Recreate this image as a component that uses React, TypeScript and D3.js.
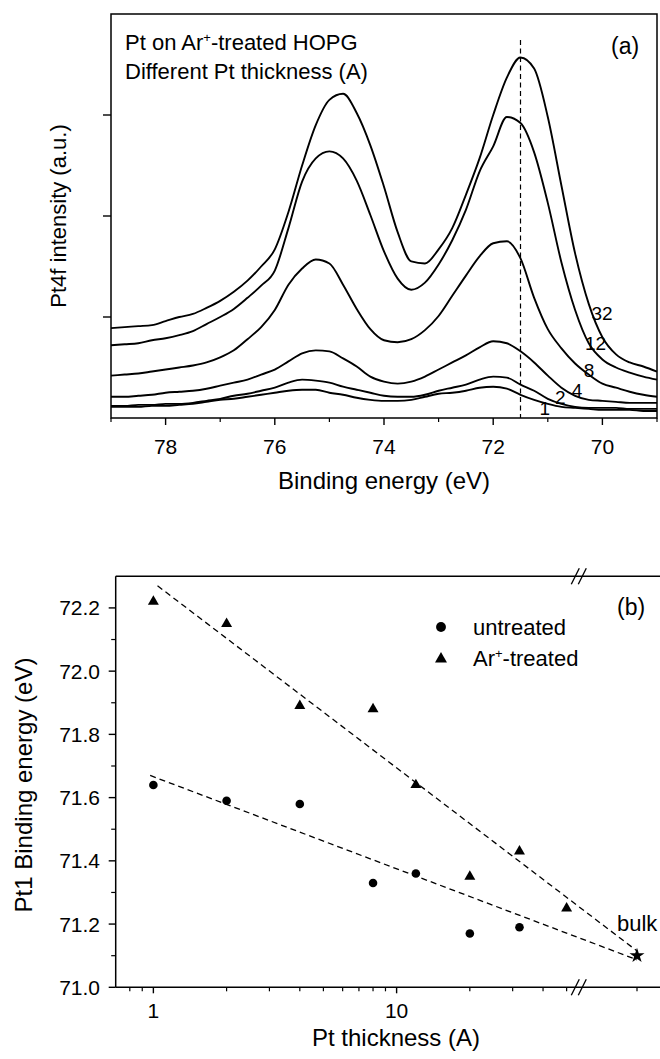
import React from 'react';
import * as d3 from 'd3';

// ---------- Panel (a): Pt4f spectra ----------
const energies = [79, 78.75, 78.5, 78.25, 78, 77.75, 77.5, 77.25, 77, 76.75, 76.5, 76.25, 76, 75.75, 75.5, 75.25, 75, 74.75, 74.5, 74.25, 74, 73.75, 73.5, 73.25, 73, 72.75, 72.5, 72.25, 72, 71.75, 71.5, 71.25, 71, 70.75, 70.5, 70.25, 70, 69.75, 69.5, 69.25, 69];

const pt32 = [0.89, 0.90, 0.91, 0.92, 0.96, 1.00, 1.03, 1.09, 1.16, 1.25, 1.36, 1.50, 1.67, 2.04, 2.50, 2.90, 3.15, 3.21, 3.02, 2.70, 2.29, 1.84, 1.55, 1.53, 1.67, 1.88, 2.21, 2.57, 3.00, 3.37, 3.57, 3.46, 2.98, 2.30, 1.63, 1.13, 0.80, 0.63, 0.55, 0.51, 0.46];
const pt12 = [0.72, 0.73, 0.74, 0.77, 0.79, 0.82, 0.86, 0.93, 1.00, 1.08, 1.19, 1.31, 1.46, 1.88, 2.34, 2.57, 2.64, 2.57, 2.35, 2.01, 1.65, 1.38, 1.27, 1.34, 1.52, 1.76, 2.06, 2.44, 2.69, 2.98, 2.92, 2.63, 2.13, 1.54, 1.07, 0.74, 0.58, 0.50, 0.45, 0.41, 0.38];
const pt8 = [0.42, 0.43, 0.44, 0.46, 0.48, 0.50, 0.52, 0.55, 0.60, 0.67, 0.78, 0.90, 1.07, 1.32, 1.48, 1.57, 1.53, 1.32, 1.08, 0.88, 0.77, 0.75, 0.78, 0.87, 1.01, 1.21, 1.41, 1.60, 1.73, 1.75, 1.58, 1.19, 0.88, 0.69, 0.54, 0.43, 0.34, 0.30, 0.26, 0.23, 0.21];
const pt4 = [0.21, 0.21, 0.22, 0.23, 0.25, 0.26, 0.27, 0.29, 0.32, 0.35, 0.38, 0.43, 0.48, 0.56, 0.64, 0.67, 0.66, 0.59, 0.51, 0.41, 0.36, 0.34, 0.36, 0.41, 0.48, 0.55, 0.62, 0.70, 0.76, 0.74, 0.66, 0.55, 0.42, 0.30, 0.22, 0.18, 0.17, 0.16, 0.15, 0.15, 0.15];
const pt2 = [0.12, 0.12, 0.13, 0.13, 0.14, 0.14, 0.15, 0.17, 0.19, 0.22, 0.24, 0.27, 0.30, 0.35, 0.38, 0.37, 0.35, 0.31, 0.28, 0.25, 0.22, 0.21, 0.21, 0.23, 0.27, 0.30, 0.33, 0.38, 0.41, 0.40, 0.33, 0.27, 0.19, 0.14, 0.11, 0.10, 0.10, 0.10, 0.09, 0.09, 0.09];
const pt1 = [0.11, 0.11, 0.11, 0.12, 0.12, 0.13, 0.14, 0.16, 0.18, 0.19, 0.21, 0.23, 0.25, 0.27, 0.28, 0.28, 0.25, 0.23, 0.20, 0.18, 0.17, 0.17, 0.18, 0.21, 0.24, 0.25, 0.27, 0.30, 0.31, 0.29, 0.23, 0.18, 0.14, 0.11, 0.10, 0.09, 0.08, 0.08, 0.08, 0.07, 0.07];

const curveNames = ['1', '2', '4', '8', '12', '32'];
const curveValues = [pt1, pt2, pt4, pt8, pt12, pt32];
// annotation anchors (energy, intensity) for the thickness labels
const labelEnergy = [71.15, 70.87, 70.56, 70.34, 70.32, 70.2];
const labelIntensity = [0.03, 0.14, 0.21, 0.41, 0.67, 0.97];

const topMajorTicks = [78, 76, 74, 72, 70];
const topMinorTicks = [79, 77, 75, 73, 71, 69];
const topYTicks = [1, 2, 3];
const refEnergy = 71.5;

// ---------- Panel (b): binding energy vs thickness ----------
const treatedThickness = [1, 2, 4, 8, 12, 20, 32, 50];
const treatedBE = [72.22, 72.15, 71.89, 71.88, 71.64, 71.35, 71.43, 71.25];
const untreatedThickness = [1, 2, 4, 8, 12, 20, 32];
const untreatedBE = [71.64, 71.59, 71.58, 71.33, 71.36, 71.17, 71.19];
const bulkBE = 71.1;
const treatedFitStart = { t: 1.04, e: 72.27 };
const treatedFitEnd = 71.115;
const untreatedFitStart = { t: 0.97, e: 71.67 };
const untreatedFitEnd = 71.087;

const botYMajor = [71.0, 71.2, 71.4, 71.6, 71.8, 72.0, 72.2];
const botYMinor = [71.1, 71.3, 71.5, 71.7, 71.9, 72.1];
const botXMajor = [1, 10];
const botXMinor = [0.8, 0.9, 2, 3, 4, 5, 6, 7, 8, 9, 20, 30, 40, 50];

const FONT = '"Liberation Sans", Arial, Helvetica, sans-serif';

export default function App() {
  // panel a scales
  const xA = d3.scaleLinear().domain([79, 69]).range([111, 657]);
  const yA = d3.scaleLinear().domain([0, 4]).range([418, 14]);
  const line = d3
    .line<number>()
    .x((_, i) => xA(energies[i]))
    .y((v) => yA(v))
    .curve(d3.curveMonotoneX);

  // panel b scales
  const xB = d3.scaleLog().domain([0.7, 58]).range([115.7, 582.3]);
  const xBulk = d3.scalePoint<string>().domain(['bulk']).range([612, 662]).padding(0.5);
  const yB = d3.scaleLinear().domain([71.0, 72.3]).range([987.3, 576.3]);
  const bx = (t: number | string) => (typeof t === 'string' ? (xBulk(t) as number) : xB(t));

  const tri = d3.symbol(d3.symbolTriangle, 52)() as string;
  const circ = d3.symbol(d3.symbolCircle, 58)() as string;
  const triL = d3.symbol(d3.symbolTriangle, 62)() as string;
  const circL = d3.symbol(d3.symbolCircle, 76)() as string;
  const star = d3.symbol(d3.symbolStar, 70)() as string;

  const aLeft = xA(79), aRight = xA(69), aTop = yA(4), aBot = yA(0);
  const bLeft = xB(0.7), bTop = yB(72.3), bBot = yB(71.0);
  const breakX = xB(58) - 3;

  const fitLine = d3.line<[number, number]>().x((d) => d[0]).y((d) => d[1]);

  return (
    <svg width={660} height={1059} style={{ position: 'absolute', left: 0, top: 0, background: '#fff' }} fontFamily={FONT}>
      <rect x={0} y={0} width={660} height={1059} fill="#fff" />
      {/* ===== Panel (a) ===== */}
      <g>
        {/* frame */}
        <rect x={aLeft} y={aTop} width={aRight - aLeft} height={aBot - aTop} fill="none" stroke="#000" strokeWidth={1.5} />
        {topMajorTicks.map((t) => (
          <line key={'am' + t} x1={xA(t)} x2={xA(t)} y1={aBot} y2={aBot + 7} stroke="#000" strokeWidth={1.4} />
        ))}
        {topMinorTicks.map((t) => (
          <line key={'an' + t} x1={xA(t)} x2={xA(t)} y1={aBot} y2={aBot + 4} stroke="#000" strokeWidth={1.2} />
        ))}
        {topMajorTicks.map((t) => (
          <text key={'al' + t} x={xA(t)} y={453.5} fontSize={21} textAnchor="middle">{t}</text>
        ))}
        {topYTicks.map((t) => (
          <line key={'ay' + t} x1={aLeft - 8} x2={aLeft} y1={yA(t)} y2={yA(t)} stroke="#000" strokeWidth={1.4} />
        ))}
        <line x1={xA(refEnergy)} x2={xA(refEnergy)} y1={40} y2={aBot} stroke="#000" strokeWidth={1.2} strokeDasharray="5,3.5" />
        {curveValues.map((vals, i) => (
          <path key={'c' + i} d={line(vals) as string} fill="none" stroke="#000" strokeWidth={1.9} strokeLinejoin="round" />
        ))}
        {curveNames.map((n, i) => (
          <text key={'cl' + n} x={xA(labelEnergy[i])} y={yA(labelIntensity[i])} fontSize={19}>{n}</text>
        ))}
        <text x={125} y={50} fontSize={22}>
          Pt on Ar<tspan dy={-8} fontSize={13}>+</tspan><tspan dy={8}>-treated HOPG</tspan>
        </text>
        <text x={125} y={79} fontSize={22}>Different Pt thickness (A)</text>
        <text x={611} y={54} fontSize={23}>(a)</text>
        <text x={384} y={489} fontSize={24} textAnchor="middle">Binding energy (eV)</text>
        <text transform={`translate(66,${(aTop + aBot) / 2}) rotate(-90)`} fontSize={22} textAnchor="middle">Pt4f intensity (a.u.)</text>
      </g>

      {/* ===== Panel (b) ===== */}
      <g>
        <line x1={bLeft} x2={bLeft} y1={bTop} y2={bBot} stroke="#000" strokeWidth={1.5} />
        <line x1={bLeft} x2={660} y1={bTop} y2={bTop} stroke="#000" strokeWidth={1.5} />
        <line x1={bLeft} x2={660} y1={bBot} y2={bBot} stroke="#000" strokeWidth={1.5} />
        {/* break marks */}
        {[bTop, bBot].map((yy, k) => (
          <g key={'br' + k}>
            <line x1={breakX - 8} x2={breakX} y1={yy + 8} y2={yy - 8} stroke="#000" strokeWidth={1.3} />
            <line x1={breakX - 1} x2={breakX + 7} y1={yy + 8} y2={yy - 8} stroke="#000" strokeWidth={1.3} />
          </g>
        ))}
        {botYMajor.map((v) => (
          <g key={'bym' + v}>
            <line x1={bLeft - 7} x2={bLeft} y1={yB(v)} y2={yB(v)} stroke="#000" strokeWidth={1.4} />
            <text x={100} y={yB(v)} dy="0.36em" fontSize={21} textAnchor="end">{v.toFixed(1)}</text>
          </g>
        ))}
        {botYMinor.map((v) => (
          <line key={'byn' + v} x1={bLeft - 4.5} x2={bLeft} y1={yB(v)} y2={yB(v)} stroke="#000" strokeWidth={1.2} />
        ))}
        {botXMajor.map((t) => (
          <g key={'bxm' + t}>
            <line x1={xB(t)} x2={xB(t)} y1={bBot} y2={bBot + 6} stroke="#000" strokeWidth={1.4} />
            <text x={xB(t)} y={1018} fontSize={21} textAnchor="middle">{t}</text>
          </g>
        ))}
        {botXMinor.map((t) => (
          <line key={'bxn' + t} x1={xB(t)} x2={xB(t)} y1={bBot} y2={bBot + 4} stroke="#000" strokeWidth={1.2} />
        ))}
        <line x1={bx('bulk')} x2={bx('bulk')} y1={bBot} y2={bBot + 4} stroke="#000" strokeWidth={1.2} />

        {/* fit lines */}
        <path
          d={fitLine([[bx(treatedFitStart.t), yB(treatedFitStart.e)], [bx('bulk'), yB(treatedFitEnd)]]) as string}
          stroke="#000" strokeWidth={1.3} strokeDasharray="6,4" fill="none"
        />
        <path
          d={fitLine([[bx(untreatedFitStart.t), yB(untreatedFitStart.e)], [bx('bulk'), yB(untreatedFitEnd)]]) as string}
          stroke="#000" strokeWidth={1.3} strokeDasharray="6,4" fill="none"
        />

        {treatedThickness.map((t, i) => (
          <path key={'tr' + t} d={tri} transform={`translate(${bx(t)},${yB(treatedBE[i])})`} fill="#000" />
        ))}
        {untreatedThickness.map((t, i) => (
          <path key={'un' + t} d={circ} transform={`translate(${bx(t)},${yB(untreatedBE[i])})`} fill="#000" />
        ))}
        <path d={star} transform={`translate(${bx('bulk')},${yB(bulkBE)})`} fill="#000" />
        <text x={617} y={931} fontSize={22}>bulk</text>

        {/* legend */}
        <path d={circL} transform="translate(441,627)" fill="#000" />
        <text x={473} y={634.5} fontSize={22}>untreated</text>
        <path d={triL} transform="translate(441,659)" fill="#000" />
        <text x={473} y={666} fontSize={22}>
          Ar<tspan dy={-8} fontSize={13}>+</tspan><tspan dy={8}>-treated</tspan>
        </text>
        <text x={617} y={615} fontSize={23}>(b)</text>

        <text x={396} y={1046} fontSize={24} textAnchor="middle">Pt thickness (A)</text>
        <text transform={`translate(32,785) rotate(-90)`} fontSize={24} textAnchor="middle">Pt1 Binding energy (eV)</text>
      </g>
    </svg>
  );
}
